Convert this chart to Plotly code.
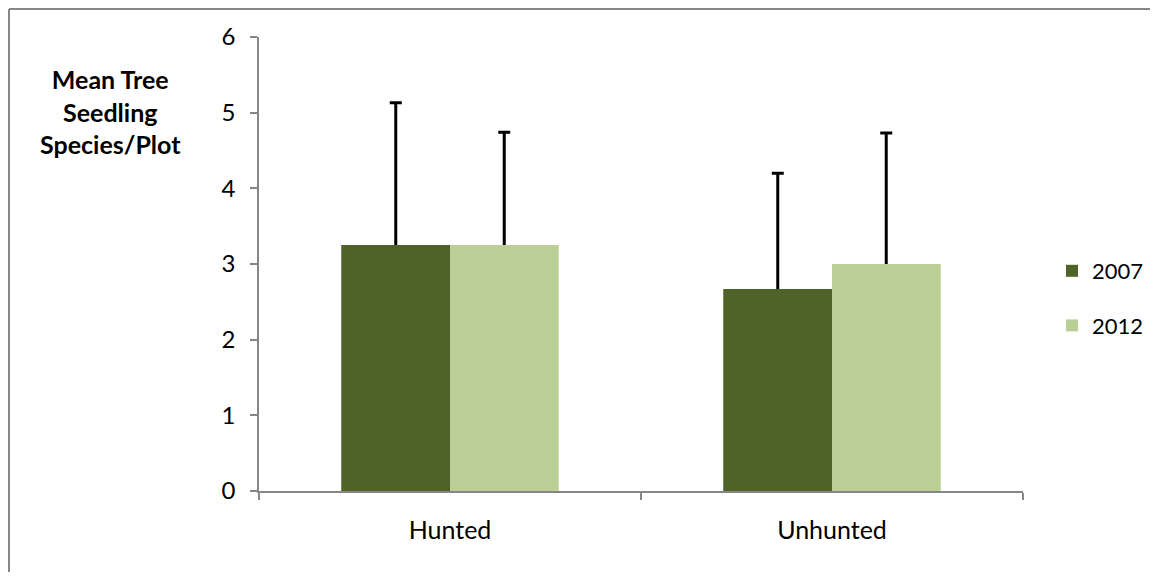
import plotly.graph_objects as go

categories = ["Hunted", "Unhunted"]
years = ["2007", "2012"]
mean_2007 = [3.25, 2.67]
mean_2012 = [3.25, 3.0]
err_2007 = [1.88, 1.53]
err_2012 = [1.49, 1.73]
y_ticks = [0, 1, 2, 3, 4, 5, 6]

colors = {"2007": "#4F6228", "2012": "#B9CF96"}
FONT = "Lato, Calibri, 'Open Sans', sans-serif"

# Page is shown with an 8px body margin; design in screen coordinates.
OFF = 8
W, H = 1158 - OFF, 580 - 2 * OFF
PL, PR, PT, PB = 259 - OFF, 1023 - OFF, 37 - OFF, 491 - OFF  # plot area (page px)
pw, ph = PR - PL, PB - PT


def px_x(x):
    return (x - OFF - PL) / pw


def px_y(y):
    return (PB - (y - OFF)) / ph


fig = go.Figure()
series = [("2007", mean_2007, err_2007), ("2012", mean_2012, err_2012)]
# Bars with error bars (lower half later hidden under plain bars)
for i, (yr, vals, errs) in enumerate(series):
    fig.add_trace(go.Bar(
        name=yr, x=categories, y=vals, offsetgroup=str(i), legendgroup=yr,
        marker=dict(color=colors[yr], line=dict(width=0)),
        error_y=dict(type="data", array=errs, color="black", thickness=3, width=6),
    ))
# Plain bars on top so only the upper error bar shows
for i, (yr, vals, errs) in enumerate(series):
    fig.add_trace(go.Bar(
        name=yr, x=categories, y=vals, offsetgroup=str(i), legendgroup=yr,
        marker=dict(color=colors[yr], line=dict(width=0)), showlegend=False,
        hoverinfo="skip",
    ))

axis_col = "#868686"
fig.update_layout(
    width=W, height=H,
    margin=dict(l=PL, r=W - PR, t=PT, b=H - PB, autoexpand=False),
    paper_bgcolor="white", plot_bgcolor="white",
    barmode="group", bargap=0.432, bargroupgap=0,
    font=dict(family=FONT, size=24, color="black"),
    legend=dict(x=px_x(1052), xanchor="left", y=px_y(298.5), yanchor="middle",
                font=dict(size=22), tracegroupgap=23, traceorder="grouped",
                itemwidth=30, bgcolor="rgba(0,0,0,0)"),
    xaxis=dict(type="category", showline=True, linecolor=axis_col, linewidth=1.5,
               ticks="outside", ticklen=7, tickcolor=axis_col, tickwidth=1.5,
               tickson="boundaries", showgrid=False, ticklabelstandoff=16,
               tickfont=dict(size=25), automargin=False),
    yaxis=dict(range=[0, 6], tickvals=y_ticks, showline=True, linecolor=axis_col,
               linewidth=1.5, ticks="outside", ticklen=7, tickcolor=axis_col,
               tickwidth=1.5, showgrid=False, zeroline=False, ticklabelstandoff=10,
               tickfont=dict(size=24), automargin=False),
    showlegend=True,
)

fig.add_annotation(
    xref="paper", yref="paper", x=px_x(110), y=px_y(112),
    text="<b>Mean Tree<br>Seedling<br>Species/Plot</b>", showarrow=False,
    xanchor="center", yanchor="middle", align="center",
    font=dict(family=FONT, size=25, color="black"),
)

# Outer chart frame (top and left edges visible)
fig.add_shape(type="line", xref="paper", yref="paper",
              x0=px_x(9), x1=px_x(1300), y0=px_y(9), y1=px_y(9),
              line=dict(color=axis_col, width=2), layer="below")
fig.add_shape(type="line", xref="paper", yref="paper",
              x0=px_x(9), x1=px_x(9), y0=px_y(9), y1=px_y(700),
              line=dict(color=axis_col, width=2), layer="below")

fig.write_html("out.html")
